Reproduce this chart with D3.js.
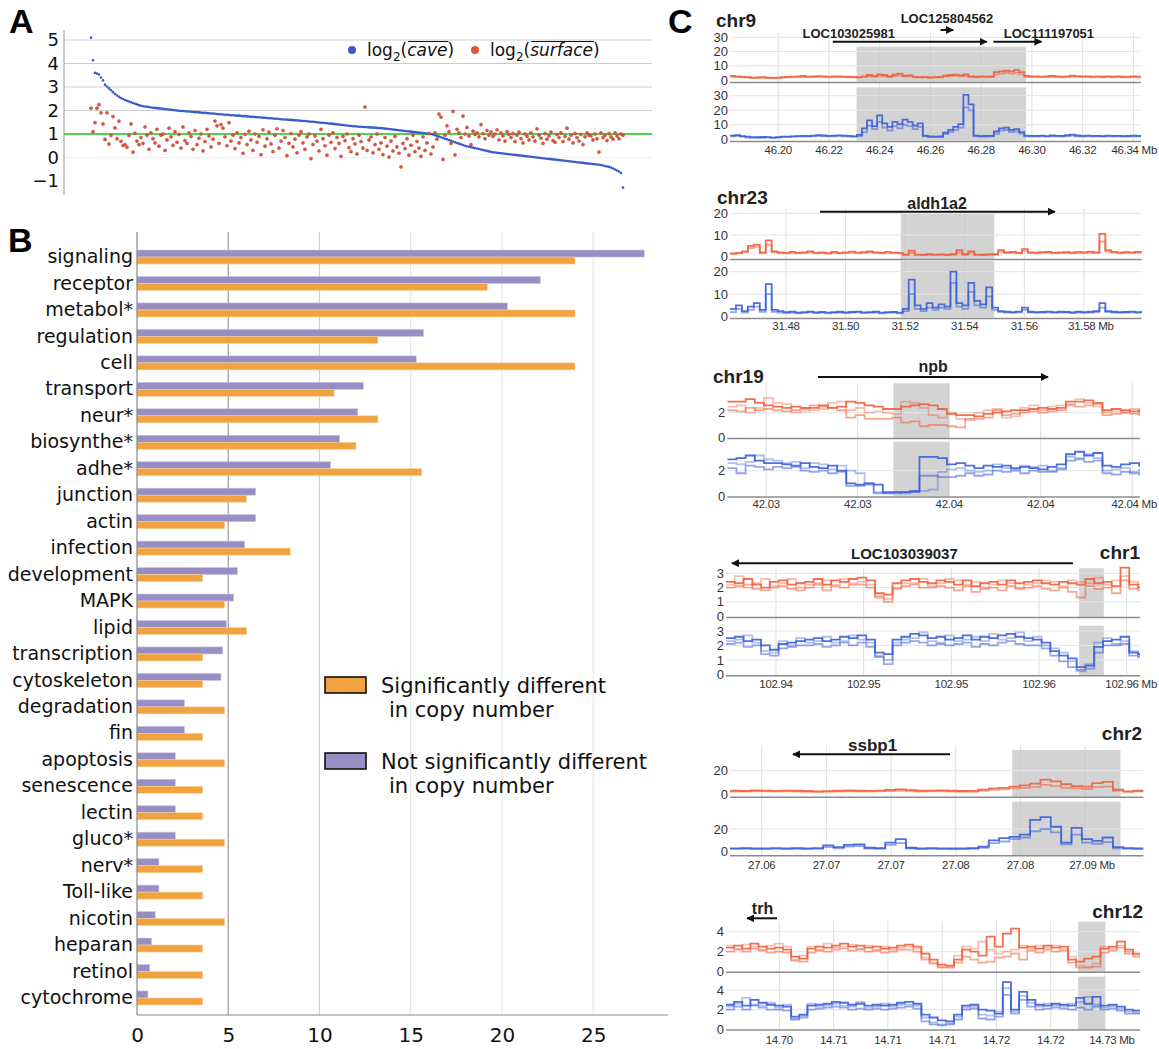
<!DOCTYPE html>
<html><head><meta charset="utf-8">
<script src="https://cdn.jsdelivr.net/npm/d3@7"></script>
<style>body{margin:0;background:#fff}svg{display:block}</style>
</head><body>
<svg id="chart" width="1159" height="1049"></svg>
<script>
// ---------------- Panel A data ----------------
const aTicks = [-1,0,1,2,3,4,5];
const aLegend = ["cave","surface"];
const caveLog2 = [
5.10,4.14,3.60,3.57,3.53,3.40,3.28,3.10,3.02,2.94,
2.86,2.78,2.70,2.64,2.58,2.53,2.49,2.45,2.41,2.38,
2.35,2.32,2.29,2.26,2.23,2.20,2.18,2.17,2.16,2.15,
2.13,2.12,2.11,2.10,2.09,2.08,2.07,2.06,2.05,2.04,
2.03,2.02,2.01,2.00,1.99,1.98,1.98,1.97,1.96,1.96,
1.95,1.94,1.93,1.93,1.92,1.91,1.90,1.90,1.89,1.88,
1.87,1.87,1.86,1.85,1.84,1.84,1.83,1.82,1.82,1.81,
1.80,1.80,1.79,1.78,1.78,1.77,1.76,1.76,1.75,1.74,
1.73,1.73,1.72,1.71,1.71,1.70,1.69,1.69,1.68,1.67,
1.67,1.66,1.65,1.65,1.64,1.63,1.62,1.62,1.61,1.60,
1.60,1.59,1.58,1.58,1.57,1.56,1.55,1.55,1.54,1.53,
1.52,1.52,1.51,1.50,1.49,1.48,1.48,1.47,1.46,1.45,
1.44,1.43,1.42,1.41,1.40,1.39,1.38,1.37,1.36,1.35,
1.34,1.33,1.33,1.32,1.31,1.31,1.30,1.30,1.29,1.28,
1.28,1.27,1.27,1.26,1.25,1.25,1.24,1.23,1.22,1.21,
1.20,1.19,1.18,1.17,1.16,1.15,1.14,1.13,1.12,1.11,
1.10,1.09,1.08,1.07,1.06,1.05,1.04,1.03,1.02,1.01,
1.00,0.98,0.95,0.92,0.89,0.86,0.83,0.80,0.77,0.74,
0.71,0.68,0.65,0.62,0.59,0.56,0.53,0.50,0.48,0.46,
0.44,0.42,0.40,0.38,0.36,0.34,0.32,0.30,0.28,0.26,
0.24,0.22,0.21,0.20,0.19,0.18,0.17,0.16,0.15,0.14,
0.13,0.12,0.11,0.10,0.09,0.08,0.07,0.06,0.05,0.04,
0.03,0.02,0.01,0.00,-0.01,-0.02,-0.03,-0.04,-0.05,-0.06,
-0.07,-0.08,-0.09,-0.10,-0.11,-0.12,-0.13,-0.14,-0.15,-0.16,
-0.17,-0.18,-0.19,-0.20,-0.21,-0.22,-0.23,-0.24,-0.25,-0.26,
-0.27,-0.28,-0.29,-0.30,-0.31,-0.32,-0.34,-0.36,-0.38,-0.40,
-0.43,-0.47,-0.51,-0.55,-0.60,-0.66,-1.28];
const surfaceLog2 = [
2.10,1.10,1.48,2.10,2.25,1.90,1.43,0.77,1.90,0.57,
0.94,1.74,1.26,0.80,1.55,0.69,0.51,0.55,0.44,0.94,
1.43,0.23,1.03,0.70,0.55,0.85,0.60,1.30,0.95,0.35,
1.05,0.80,0.62,1.20,0.48,0.95,1.00,0.30,0.75,1.25,
0.88,0.52,1.10,0.65,0.98,0.40,1.30,0.72,0.60,1.05,
0.90,0.35,1.15,0.55,0.82,1.00,0.28,0.68,1.20,0.92,
0.45,0.78,1.55,1.35,0.60,1.40,1.25,0.88,0.50,1.48,
0.70,0.95,0.38,1.05,0.62,0.85,0.18,0.98,0.55,1.12,
0.75,0.30,1.00,0.65,0.90,0.12,1.18,0.48,0.80,1.08,
0.58,0.25,0.95,1.22,0.40,0.70,1.15,0.85,0.08,0.60,
1.02,0.45,0.78,0.20,0.95,1.10,0.62,0.35,0.88,1.00,
-0.05,0.55,0.92,0.70,0.28,1.20,0.80,0.50,0.10,0.95,
0.65,1.05,0.38,0.85,0.60,0.05,0.90,0.72,1.00,0.42,
0.25,0.80,0.58,0.15,0.95,0.68,0.40,2.15,0.30,0.75,
0.88,0.20,0.55,1.00,0.35,0.62,0.12,0.85,0.48,0.02,
0.70,0.28,0.90,0.45,0.18,-0.40,0.60,0.38,0.80,0.10,
0.52,0.95,0.25,0.68,0.40,0.05,0.88,0.30,0.62,1.02,
0.15,0.45,1.05,0.78,1.85,1.72,-0.08,0.95,1.35,1.10,
0.60,1.96,0.11,1.20,1.05,0.85,1.76,1.00,1.28,0.92,
0.55,1.12,0.98,1.05,0.88,1.40,1.02,0.80,1.15,0.95,
1.08,0.90,1.00,1.18,0.75,1.05,0.92,0.70,1.10,0.98,
0.85,1.02,0.68,0.95,1.08,0.80,0.62,1.00,0.90,0.75,
1.05,0.88,0.70,1.22,0.95,0.82,0.60,1.02,0.78,0.92,
1.08,0.72,0.65,0.98,0.85,1.05,0.68,0.90,1.25,0.78,
0.95,0.62,1.02,0.85,0.70,0.98,0.55,0.88,1.05,0.95,
0.92,0.75,1.00,0.80,0.23,1.05,0.85,0.95,0.72,1.02,
0.88,0.78,1.05,0.92,0.80,1.00,0.95];

// ---------------- Panel B data ----------------
const bCategories = ["signaling","receptor","metabol*","regulation","cell","transport","neur*","biosynthe*","adhe*","junction","actin","infection","development","MAPK","lipid","transcription","cytoskeleton","degradation","fin","apoptosis","senescence","lectin","gluco*","nerv*","Toll-like","nicotin","heparan","retinol","cytochrome"];
const bNotSignificant = [27.8,22.1,20.3,15.7,15.3,12.4,12.1,11.1,10.6,6.5,6.5,5.9,5.5,5.3,4.9,4.7,4.6,2.6,2.6,2.1,2.1,2.1,2.1,1.2,1.2,1.0,0.8,0.7,0.6];
const bSignificant = [24.0,19.2,24.0,13.2,24.0,10.8,13.2,12.0,15.6,6.0,4.8,8.4,3.6,4.8,6.0,3.6,3.6,4.8,3.6,4.8,3.6,3.6,4.8,3.6,3.6,4.8,3.6,3.6,3.6];
const bTicks = [0,5,10,15,20,25];
const bLegend = [["Significantly different","in copy number"],["Not significantly different","in copy number"]];

// ---------------- Panel C data ----------------
const chr9Ticks = [46.20,46.22,46.24,46.26,46.28,46.30,46.32,46.34];
const chr9TickLabels = ["46.20","46.22","46.24","46.26","46.28","46.30","46.32","46.34"];
const chr9Bins = {start:46.181, step:0.002};
const chr9Shade = [46.2309,46.2977];
const chr9Genes = [
 {name:"LOC125804562", label:46.2665, from:46.2640, to:46.2690},
 {name:"LOC103025981", label:46.2278, from:46.2215, to:46.2822},
 {name:"LOC111197051", label:46.3067, from:46.2848, to:46.3038}];
const chr9Red1 = [2.8,2.5,2.2,2.0,1.6,1.8,2.0,1.7,1.5,1.6, 2.0,2.2,2.4,2.6,2.8,2.4,2.5,2.7,2.5,2.4, 2.5,2.6,2.4,2.3,2.2, 2.0,2.5,3.5,2.8,4.0, 3.5,2.5,3.8,4.5,3.0, 3.2,2.2,2.0,2.2,1.8, 2.0,2.2,3.0,3.5,3.8, 3.2,4.0,2.5,2.3,2.5, 2.4,2.6,5.5,6.0,6.5, 6.0,7.0,5.5,2.8,2.6, 2.5,2.4,2.6,2.8,2.5,2.4,2.6,3.0,2.7,2.5, 2.6,2.4,2.5,2.3,2.6,2.4,2.5,2.3,2.4,2.6,2.4];
const chr9Red2 = [2.2,2.0,1.8,1.6,1.3,1.4,1.5,1.3,1.2,1.3, 1.6,1.8,2.0,2.1,2.2,2.0,2.1,2.2,2.0,1.9, 2.0,2.1,2.0,1.9,1.8, 1.6,2.0,2.6,2.2,3.0, 2.6,2.0,2.8,3.2,2.4, 2.5,1.8,1.7,1.8,1.5, 1.6,1.8,2.4,2.8,3.0, 2.6,3.0,2.0,1.9,2.0, 2.0,2.1,4.0,4.5,5.0, 4.5,5.0,4.0,2.3,2.1, 2.0,2.0,2.1,2.3,2.0,1.9,2.1,2.4,2.2,2.0, 2.1,1.9,2.0,1.9,2.1,1.9,2.0,1.8,1.9,2.1,1.9];
const chr9Blue1 = [2.5,2.8,2.2,1.8,1.5,1.4,1.6,1.5,1.2,1.5, 1.8,1.9,2.0,2.2,2.4,2.2,2.5,2.8,2.6,2.4, 2.5,2.7,2.5,2.3,2.0, 3.0,7.5,13.0,9.0,16.5, 11.0,8.5,12.0,10.5,13.5, 12.0,9.5,11.0,2.5,2.0, 1.8,2.0,4.5,6.5,8.5, 10.5,30.5,24.0,2.5,2.2, 2.3,2.4,5.5,7.5,8.0, 6.5,7.0,5.0,2.5,2.4, 2.3,2.5,2.2,2.6,2.4,2.3,2.8,3.2,2.6,2.4, 2.5,2.3,2.4,2.2,2.5,2.3,2.4,2.2,2.3,2.5,2.3];
const chr9Blue2 = [2.0,2.3,1.8,1.2,1.0,1.2,1.0,1.3,1.0,1.2, 1.5,1.6,1.8,2.0,1.9,2.0,2.2,2.4,2.2,2.0, 2.1,2.3,2.0,1.9,1.8, 2.2,5.0,9.5,7.0,12.0, 8.0,6.0,9.0,7.5,10.0, 9.0,7.0,8.5,2.0,1.6, 1.5,1.6,3.5,5.0,6.5, 8.0,22.0,20.0,2.0,1.8, 1.9,2.0,4.0,6.0,6.5, 5.0,5.5,4.0,2.0,1.9, 1.9,2.0,1.8,2.1,2.0,1.9,2.2,2.5,2.1,1.9, 2.0,1.9,2.0,1.8,2.0,1.9,2.0,1.8,1.9,2.0,1.9];

const chr23Ticks = [31.48,31.50,31.52,31.54,31.56,31.58];
const chr23TickLabels = ["31.48","31.50","31.52","31.54","31.56","31.58"];
const chr23Bins = {start:31.4612, step:0.002};
const chr23Shade = [31.5185,31.5499];
const chr23Genes = [{name:"aldh1a2", label:31.5307, from:31.4914, to:31.5703}];
const chr23Red1 = [1.5,1.8,2.5,5.0,5.5,2.0,7.5,2.5,2.0,1.8, 2.2,1.8,2.0,2.5,1.8,2.0,1.6,2.2,1.8,2.0, 2.3,1.9,2.1,2.4,2.0,1.8,2.2,1.9,1.8,1.0, 2.8,1.0,0.9,1.2,1.0,1.1,0.9,1.2,3.0,1.2, 2.5,1.0,0.9,1.1,1.2,3.0,2.0,2.2,1.8,3.5, 2.0,1.9,2.1,2.2,1.8,2.0,2.1,1.9,2.2,2.0, 2.3,2.0,10.5,3.0,2.2,1.9,2.1,2.0,2.2,2.1];
const chr23Red2 = [1.2,1.5,2.0,4.0,4.5,1.6,5.5,2.0,1.6,1.5, 1.8,1.5,1.7,2.0,1.5,1.7,1.4,1.8,1.5,1.7, 1.9,1.6,1.8,2.0,1.7,1.5,1.8,1.6,1.5,0.8, 1.8,0.8,0.7,0.9,0.8,0.9,0.7,0.9,2.0,0.9, 1.8,0.8,0.7,0.9,0.8,2.2,1.7,1.8,1.5,2.6, 1.7,1.6,1.8,1.8,1.5,1.7,1.8,1.6,1.8,1.7, 1.9,1.7,7.0,2.2,1.8,1.6,1.8,1.7,1.8,1.8];
const chr23Blue1 = [3.5,5.0,2.5,4.5,6.0,3.0,14.5,3.0,2.5,2.0, 2.2,1.8,2.0,2.3,1.9,2.1,1.8,2.0,2.2,1.9, 2.1,2.3,1.9,2.0,2.2,1.8,2.0,2.1,1.8,3.5, 16.5,5.0,3.5,6.0,4.0,5.5,4.5,20.0,6.0,5.0, 15.0,7.0,5.5,13.0,4.0,2.5,2.2,2.0,2.3,4.0, 2.2,2.0,2.1,2.3,2.0,2.2,2.1,1.9,2.2,2.0, 2.2,2.5,6.0,2.5,2.2,2.0,2.1,2.3,2.0,2.2];
const chr23Blue2 = [2.0,3.5,1.8,3.0,4.5,2.2,10.0,2.2,1.8,1.6, 1.8,1.5,1.7,1.9,1.6,1.8,1.5,1.7,1.8,1.6, 1.8,1.9,1.6,1.7,1.8,1.5,1.7,1.8,1.5,2.5, 10.0,3.5,2.5,4.0,3.0,4.0,3.5,15.0,4.5,3.5, 11.0,5.0,4.0,9.0,3.0,2.0,1.8,1.7,1.9,3.0, 1.8,1.7,1.8,1.9,1.7,1.8,1.8,1.6,1.8,1.7, 1.8,2.0,4.0,2.0,1.8,1.7,1.8,1.9,1.7,1.8];

const chr19Ticks = [42.032,42.034,42.036,42.038,42.040];
const chr19TickLabels = ["42.03","42.03","42.04","42.04","42.04"];
const chr19Bins = {start:42.03115, step:0.0002};
const chr19Shade = [42.03478,42.03600];
const chr19Genes = [{name:"npb", label:42.03565, from:42.03313, to:42.03816}];
const chr19Red1 = [2.9,2.9,3.1,2.8,2.6, 2.5,2.4,2.5,2.4, 2.4,2.6,2.4,2.5, 2.9,2.8,2.6,2.5, 2.3,2.3, 2.5,2.6, 2.7,2.6,2.3, 1.9,1.8,1.8, 1.7,1.9, 2.0,2.1,2.2,2.2, 2.3,2.4,2.3,2.4, 2.9,2.9,3.0,2.8, 2.2,2.3,2.2,2.1,2.2];
const chr19Red2 = [2.2,2.1,2.4,2.2,2.3, 2.2,2.1,2.2,2.3, 2.6,2.5,2.4,2.2, 1.6,1.8,1.5,1.5, 1.5,1.6, 1.2,1.3, 0.9,1.0,1.0, 0.9,0.8,1.5, 1.5,1.6, 2.2,1.8,1.9,2.0, 2.1,2.0,2.1,2.2, 2.6,2.5,2.6,2.7, 1.8,1.9,2.0,1.9,1.8];
const chr19Red3 = [2.5,2.6,2.0,2.4,3.2, 2.8,2.7,2.0,2.1, 2.2,2.3,2.8,2.9, 2.2,2.4,2.0,2.1, 2.0,1.9, 2.9,2.8, 2.4,1.8,1.6, 2.0,1.5,1.4, 2.0,2.2, 2.3,1.6,1.7,2.4, 2.6,2.2,2.5,2.6, 2.7,3.1,2.8,2.5, 2.0,2.1,2.0,2.3,2.0];
const chr19Blue1 = [2.9,3.0,3.2,2.8,2.6, 2.6,2.5,2.4,2.6, 2.3,2.2,2.4,2.0, 1.0,0.9,1.0,0.9, 0.3,0.3, 0.3,0.4, 3.1,3.1,3.0, 2.5,2.6,2.4, 2.2,2.4, 2.3,2.4,2.2,2.3, 2.2,2.1,2.3,2.5, 3.3,3.5,3.2,3.4, 2.4,2.3,2.5,2.6,2.4];
const chr19Blue2 = [2.2,1.8,2.4,2.3,2.1, 2.3,2.2,2.3,2.0, 1.9,2.0,1.8,1.9, 0.8,0.8,0.9,0.2, 0.2,0.2, 0.3,0.3, 1.6,1.6,1.5, 1.5,1.6,1.8, 1.6,1.7, 2.0,1.9,2.0,1.8, 2.0,1.9,1.9,2.1, 2.8,2.9,2.7,2.8, 1.8,1.7,1.9,1.8,1.7];
const chr19Blue3 = [2.6,2.5,2.7,3.2,2.9, 2.8,2.6,2.7,2.2, 2.6,2.5,2.1,2.4, 2.0,1.8,1.0,0.3, 0.2,0.3, 0.2,0.3, 0.4,0.5,1.9, 2.1,2.2,2.0, 1.9,2.0, 2.5,2.2,2.1,2.4, 2.3,2.4,2.0,2.2, 3.1,3.0,3.3,3.0, 2.0,2.1,2.2,1.9,2.1];

const chr1Ticks = [102.944,102.948,102.952,102.956,102.960];
const chr1TickLabels = ["102.94","102.95","102.95","102.96","102.96"];
const chr1Bins = {start:102.94172, step:0.0004};
const chr1Shade = [102.95783,102.95896];
const chr1Genes = [{name:"LOC103039037", label:102.94986, from:102.95755, to:102.94199}];
const chr1Red1 = [2.4,2.3,2.6,2.2,2.0,2.4,2.5,2.2,2.3,2.4, 2.6,2.2,2.5,2.4,2.6,2.7,2.5,1.6,1.5,2.3, 2.5,2.6,2.4,2.3,2.5,2.4,2.2,2.5,2.1,2.3, 2.4,2.2,2.5,2.3,2.4,2.5,2.3,2.2,2.4,2.3, 2.2,2.6,2.3,2.4,2.1,3.4,2.2,2.0];
const chr1Red2 = [2.0,2.1,2.2,1.9,1.8,2.0,2.1,1.9,1.8,2.0, 2.2,1.8,2.1,2.0,2.2,2.2,2.0,1.3,1.0,1.9, 2.1,2.2,2.0,2.0,2.1,2.0,1.8,2.1,1.7,1.9, 2.0,1.8,2.1,1.9,2.0,2.1,1.9,1.8,2.0,1.7, 1.3,2.1,1.9,2.0,1.6,2.5,1.9,1.8];
const chr1Red3 = [2.2,2.8,2.0,2.3,2.6,2.1,2.3,2.6,2.0,2.2, 2.3,2.5,2.2,2.6,2.3,2.4,2.2,1.4,1.2,2.0, 2.3,2.3,2.6,2.1,2.3,2.6,2.5,2.2,2.4,2.0, 2.2,2.5,2.3,2.0,2.2,2.3,2.5,2.4,2.1,2.5, 2.4,2.3,2.7,2.2,2.5,2.8,2.4,2.2];
const chr1Blue1 = [2.5,2.6,2.3,2.4,2.0,1.7,2.1,2.2,2.3,2.4, 2.5,2.3,2.4,2.6,2.5,2.7,2.4,1.5,1.4,2.4, 2.6,2.8,2.7,2.5,2.6,2.4,2.5,2.7,2.4,2.6, 2.5,2.7,2.8,2.6,2.5,2.4,2.2,1.6,1.3,1.1, 0.5,0.6,1.9,2.3,2.4,2.6,1.5,1.4];
const chr1Blue2 = [2.1,2.2,1.9,2.0,1.4,1.3,1.8,1.9,2.0,2.0, 2.1,1.9,2.0,2.2,2.0,2.2,1.9,1.2,0.7,2.0, 2.2,2.3,2.2,2.0,2.1,2.0,2.1,2.2,1.9,2.1, 2.0,2.2,2.3,2.1,2.0,2.0,1.8,1.3,0.9,0.5, 0.3,0.4,1.5,2.0,2.0,2.1,1.3,1.2];
const chr1Blue3 = [2.3,2.4,2.7,2.2,1.6,1.5,2.3,2.0,2.5,2.2, 2.3,2.6,2.2,2.3,2.7,2.4,2.2,1.3,1.0,2.2, 2.4,2.5,2.9,2.3,2.2,2.7,2.3,2.4,2.6,2.3, 2.8,2.4,2.5,2.9,2.3,2.6,2.0,1.8,1.5,0.9, 0.2,0.7,2.2,2.5,2.1,2.3,1.6,1.3];

const chr2Ticks = [27.060,27.065,27.070,27.075,27.080,27.085];
const chr2TickLabels = ["27.06","27.07","27.07","27.08","27.08","27.09"];
const chr2Bins = {start:27.05755, step:0.0008};
const chr2Shade = [27.07937,27.08774];
const chr2Genes = [{name:"ssbp1", label:27.06857, from:27.07456, to:27.06242}];
const chr2Red1 = [3.0,2.8,3.2,3.0,2.9,3.1,3.0,2.8,2.5,2.7, 3.0,3.2,3.0,2.9,3.1,3.8,4.2,3.5,3.0,3.1, 3.3,3.0,2.8,2.9,4.0,5.0,5.5,6.5,7.5,9.0, 12.5,11.0,8.5,7.0,6.5,9.5,10.5,4.0,2.5,3.0];
const chr2Red2 = [2.3,2.2,2.5,2.4,2.2,2.5,2.3,2.1,1.9,2.0, 2.3,2.5,2.3,2.2,2.4,2.8,3.0,2.6,2.3,2.4, 2.5,2.2,2.0,2.1,3.0,3.8,4.2,5.0,5.5,6.0, 8.0,7.0,5.5,5.0,4.5,6.0,6.5,3.0,2.0,2.4];
const chr2Blue1 = [3.0,3.2,3.0,2.9,3.1,3.0,3.2,3.0,3.1,5.5, 4.0,6.0,6.5,3.5,3.2,8.0,11.0,3.5,3.0,3.1, 3.0,2.8,3.0,3.2,4.5,10.0,12.0,13.0,15.0,28.0, 30.5,22.0,8.0,21.0,11.0,9.5,12.5,4.0,3.2,3.0];
const chr2Blue2 = [2.5,2.6,2.4,2.3,2.5,2.4,2.6,2.4,2.5,4.0, 3.0,4.5,5.0,2.8,2.6,6.0,7.5,2.8,2.4,2.5, 2.4,2.2,2.4,2.6,3.5,7.5,9.0,11.0,12.5,18.0, 20.0,17.0,6.5,15.0,8.0,7.0,8.5,3.0,2.6,2.4];

const chr12Ticks = [14.702,14.706,14.710,14.714,14.718,14.722,14.726];
const chr12TickLabels = ["14.70","14.71","14.71","14.71","14.72","14.72","14.73"];
const chr12Bins = {start:14.69807, step:0.0006};
const chr12Shade = [14.72402,14.72599];
const chr12Genes = [{name:"trh", label:14.70076, from:14.70183, to:14.69962}];
const chr12Red1 = [2.4,2.6,2.3,2.8,2.5,2.3,2.4,2.2,1.5,1.3, 2.3,2.5,2.4,2.6,2.8,2.5,2.6,2.4,2.5,2.3, 2.4,2.6,2.7,2.5,1.8,1.2,0.7,0.6,1.2,2.2, 2.0,1.6,3.5,2.5,3.8,4.3,2.4,2.5,2.3,2.6, 2.4,2.5,1.2,1.0,1.3,1.5,2.3,2.5,3.0,2.2, 1.8];
const chr12Red2 = [2.0,2.2,2.0,2.3,2.1,1.9,2.0,1.9,1.1,1.0, 1.9,2.1,2.0,2.2,2.3,2.1,2.2,2.0,2.1,1.9, 2.0,2.2,2.2,2.0,1.2,0.8,0.4,0.4,0.9,1.5, 1.2,0.9,1.0,1.4,1.5,1.8,1.2,2.1,1.9,2.2, 2.0,2.1,0.9,0.4,0.4,0.5,1.9,2.1,2.4,1.8, 1.5];
const chr12Red3 = [2.6,2.3,2.7,2.5,2.2,2.6,2.8,2.5,1.2,1.6, 2.5,2.2,2.8,2.4,2.5,2.7,2.3,2.6,2.2,2.5, 2.2,2.4,2.5,2.3,1.4,0.9,0.5,0.5,1.6,2.5, 2.3,3.0,2.2,1.8,2.0,2.2,2.6,2.3,2.6,2.4, 2.6,2.3,1.5,0.6,0.5,0.8,2.5,2.3,2.6,2.0, 1.7];
const chr12Blue1 = [2.5,2.8,2.4,3.0,2.7,2.5,2.4,2.3,1.3,1.5, 2.4,2.5,2.6,2.8,2.7,2.5,2.6,2.4,2.5,2.4, 2.5,2.7,2.8,2.6,1.5,1.2,0.9,0.8,1.5,2.4, 2.5,2.0,1.9,1.6,4.8,2.0,3.8,3.0,2.5,2.4, 2.6,2.5,2.4,3.2,2.6,3.3,2.4,2.5,2.3,2.0, 1.9];
const chr12Blue2 = [2.0,2.3,2.0,2.4,2.2,2.0,2.0,1.9,1.0,1.2, 2.0,2.1,2.2,2.3,2.2,2.0,2.1,2.0,2.1,2.0, 2.1,2.2,2.3,2.1,0.8,0.5,0.4,0.5,1.0,2.0, 2.1,1.1,1.0,1.3,3.5,1.6,3.0,2.3,2.0,2.1, 2.2,2.1,2.0,2.2,2.0,2.3,2.0,2.1,1.9,1.6, 1.6];
const chr12Blue3 = [2.3,2.6,3.2,2.5,2.4,2.7,2.2,2.5,1.1,1.4, 2.6,2.3,2.4,2.6,2.4,2.3,2.8,2.2,2.3,2.6, 2.3,2.5,2.5,2.4,1.2,0.7,0.5,0.6,1.3,2.2, 2.3,1.5,1.4,1.8,4.2,1.8,3.4,2.7,2.3,2.6, 2.4,2.3,2.6,2.8,3.3,2.5,2.2,2.3,2.1,1.8, 1.7];

// ---------------- drawing ----------------
const svg = d3.select("#chart");
const defs = svg.append("defs");
const SANS = "DejaVu Sans";
const ARIAL = "Liberation Sans";
const RED = "#f0603d", BLUE = "#3b5fd8";

[["A",9,33],["B",8,252],["C",668,33]].forEach(([t,x,y]) =>
  svg.append("text").attr("x",x).attr("y",y).attr("font-family",ARIAL)
     .attr("font-weight","bold").attr("font-size",34).attr("fill","#000").text(t));

// ===== Panel A =====
(function(){
  const g = svg.append("g");
  const x = d3.scaleLinear().domain([0, caveLog2.length-1]).range([91, 623]);
  const y = d3.scaleLinear().domain([-1,5]).range([181,40]);
  g.selectAll(".ga").data(aTicks.filter(t=>t>=0)).join("line")
    .attr("x1",64).attr("x2",652).attr("y1",d=>y(d)).attr("y2",d=>y(d))
    .attr("stroke",d=>d===0?"#efefef":"#cdcdcd").attr("stroke-width",1.2);
  g.append("line").attr("x1",64).attr("x2",64).attr("y1",30).attr("y2",195).attr("stroke","#999");
  const ax = d3.axisLeft(y).tickValues(aTicks).tickSize(0).tickPadding(5)
     .tickFormat(d=> d<0 ? "\u2212"+Math.abs(d) : String(d));
  g.append("g").attr("transform","translate(64,0)").call(ax)
    .call(s=>s.select(".domain").remove())
    .selectAll("text").attr("font-family",SANS).attr("font-size",18).attr("fill","#111");
  g.append("line").attr("x1",64).attr("x2",652).attr("y1",y(1)).attr("y2",y(1))
    .attr("stroke","#1fcc1f").attr("stroke-width",1.6);
  g.selectAll(".cave").data(caveLog2).join("circle")
    .attr("cx",(d,i)=>x(i)).attr("cy",d=>y(d)).attr("r",1.3).attr("fill","#3a5ccc");
  g.selectAll(".surf").data(surfaceLog2).join("circle")
    .attr("cx",(d,i)=>x(i)).attr("cy",d=>y(d)).attr("r",1.6).attr("fill","#e0553c")
    .attr("stroke","#a83a2a").attr("stroke-width",0.4);
  const legX = [352, 475], legCol = ["#3a5ccc","#e0553c"];
  aLegend.forEach((name,k)=>{
    g.append("circle").attr("cx",legX[k]).attr("cy",50).attr("r",4).attr("fill",legCol[k]);
    const t = g.append("text").attr("x",legX[k]+15).attr("y",56).attr("font-family",SANS)
       .attr("font-size",17).attr("fill","#111");
    t.append("tspan").text("log");
    t.append("tspan").attr("font-size",12).attr("dy",5).text("2");
    t.append("tspan").attr("dy",-5).text("(");
    const it = t.append("tspan").attr("font-style","italic").text(name);
    t.append("tspan").text(")");
    const node = it.node();
    const n = name.length;
    const x0 = node.getStartPositionOfChar(0).x, x1 = node.getEndPositionOfChar(n-1).x;
    g.append("line").attr("x1",x0+1).attr("x2",x1+1).attr("y1",41.5).attr("y2",41.5)
      .attr("stroke","#111").attr("stroke-width",1.2);
  });
})();

// ===== Panel B =====
(function(){
  const g = svg.append("g");
  const x = d3.scaleLinear().domain([0,29.1]).range([137,668]);
  const y = d3.scaleBand().domain(bCategories).range([243.8,1011.2]);
  const yc = c => y(c) + y.bandwidth()/2;
  g.selectAll(".gb").data(bTicks.filter(t=>t>0)).join("line")
    .attr("x1",d=>x(d)).attr("x2",d=>x(d)).attr("y1",232).attr("y2",1015)
    .attr("stroke",d=>d===5?"#9a9a9a":(d===10?"#cfcfcf":"#e6e6e6")).attr("stroke-width",1.2);
  const rows = bCategories.map((c,i)=>({c, ns:bNotSignificant[i], s:bSignificant[i]}));
  g.selectAll(".ns").data(rows).join("rect")
    .attr("x",x(0)).attr("y",d=>yc(d.c)-7).attr("width",d=>x(d.ns)-x(0)).attr("height",7)
    .attr("fill","#998ec3").attr("stroke","#c9c2e2").attr("stroke-width",0.6);
  g.selectAll(".sg").data(rows).join("rect")
    .attr("x",x(0)).attr("y",d=>yc(d.c)).attr("width",d=>x(d.s)-x(0)).attr("height",7)
    .attr("fill","#f1a340").attr("stroke","#f7cf9a").attr("stroke-width",0.6);
  g.append("line").attr("x1",137).attr("x2",137).attr("y1",232).attr("y2",1015).attr("stroke","#888").attr("stroke-width",1.2);
  g.append("line").attr("x1",137).attr("x2",668).attr("y1",1015).attr("y2",1015).attr("stroke","#888").attr("stroke-width",1.2);
  g.append("g").attr("transform","translate(137,0)")
    .call(d3.axisLeft(y).tickSize(0).tickPadding(4))
    .call(s=>s.select(".domain").remove())
    .selectAll("text").attr("font-family",SANS).attr("font-size",19).attr("fill","#111");
  g.append("g").attr("transform","translate(0,1015)")
    .call(d3.axisBottom(x).tickValues(bTicks).tickSize(0).tickPadding(13))
    .call(s=>s.select(".domain").remove())
    .selectAll("text").attr("font-family",SANS).attr("font-size",20).attr("fill","#111");
  const legCols = ["#f1a340","#998ec3"], legY = [677,753];
  bLegend.forEach((lines,k)=>{
    g.append("rect").attr("x",325).attr("y",legY[k]).attr("width",41).attr("height",16)
      .attr("fill",legCols[k]).attr("stroke","#111").attr("stroke-width",1.6);
    g.append("text").attr("x",381).attr("y",legY[k]+16).attr("font-family",SANS).attr("font-size",21)
      .attr("fill","#111").text(lines[0]);
    g.append("text").attr("x",389).attr("y",legY[k]+40).attr("font-family",SANS).attr("font-size",21)
      .attr("fill","#111").text(lines[1]);
  });
})();

// ===== Panel C =====
const regions = [
 {id:"c9", title:"chr9", titleX:716, titleY:27, titleAnchor:"start",
  xDomain:[46.181,46.343], xRange:[730,1141], ticks:chr9Ticks, labels:chr9TickLabels, labelY:154,
  bins:chr9Bins, shade:chr9Shade, genes:chr9Genes, geneFont:13, geneLabelY:[23,38,38], geneArrowY:[30,41.7,41.7],
  gridTop:33,
  tracks:[
   {color:RED, zeroY:80, refY:37.3, ref:30, yTicks:[0,10,20,30], shadeTop:46.7, shadeBottom:82, lineY:82.5, reps:[chr9Red1,chr9Red2]},
   {color:BLUE, zeroY:139.3, refY:95.7, ref:30, yTicks:[0,10,20,30], shadeTop:87.3, shadeBottom:140.5, lineY:141.5, reps:[chr9Blue1,chr9Blue2]}]},
 {id:"c23", title:"chr23", titleX:717, titleY:204, titleAnchor:"start",
  xDomain:[31.4612,31.5994], xRange:[730,1141.7], ticks:chr23Ticks, labels:chr23TickLabels, labelY:330,
  bins:chr23Bins, shade:chr23Shade, genes:chr23Genes, geneFont:16, geneLabelY:[209], geneArrowY:[211.7],
  gridTop:209,
  tracks:[
   {color:RED, zeroY:256.7, refY:213.3, ref:20, yTicks:[0,10,20], shadeTop:214, shadeBottom:259, lineY:259.5, reps:[chr23Red1,chr23Red2]},
   {color:BLUE, zeroY:316.7, refY:271.7, ref:20, yTicks:[0,10,20], shadeTop:261, shadeBottom:317.5, lineY:318.5, reps:[chr23Blue1,chr23Blue2]}]},
 {id:"c19", title:"chr19", titleX:713, titleY:383, titleAnchor:"start",
  xDomain:[42.03115,42.04017], xRange:[727.3,1140], ticks:chr19Ticks, labels:chr19TickLabels, labelY:508,
  bins:chr19Bins, shade:chr19Shade, genes:chr19Genes, geneFont:16, geneLabelY:[372], geneArrowY:[377],
  gridTop:383,
  tracks:[
   {color:RED, zeroY:437.3, refY:412.7, ref:2, yTicks:[0,2], shadeTop:383.3, shadeBottom:438, lineY:438.5, reps:[chr19Red1,chr19Red2,chr19Red3]},
   {color:BLUE, zeroY:496, refY:470.7, ref:2, yTicks:[0,2], shadeTop:441.7, shadeBottom:496.5, lineY:497, reps:[chr19Blue1,chr19Blue2,chr19Blue3]}]},
 {id:"c1", title:"chr1", titleX:1140, titleY:559, titleAnchor:"end",
  xDomain:[102.94172,102.96061], xRange:[726,1140], ticks:chr1Ticks, labels:chr1TickLabels, labelY:688,
  bins:chr1Bins, shade:chr1Shade, genes:chr1Genes, geneFont:15, geneLabelY:[559], geneArrowY:[563.3],
  gridTop:568,
  tracks:[
   {color:RED, zeroY:616, refY:573.3, ref:3, yTicks:[0,1,2,3], shadeTop:568.3, shadeBottom:617, lineY:617.5, reps:[chr1Red1,chr1Red2,chr1Red3]},
   {color:BLUE, zeroY:674.3, refY:631, ref:3, yTicks:[0,1,2,3], shadeTop:625.7, shadeBottom:675, lineY:675.7, reps:[chr1Blue1,chr1Blue2,chr1Blue3]}]},
 {id:"c2", title:"chr2", titleX:1142, titleY:740, titleAnchor:"end",
  xDomain:[27.05755,27.0895], xRange:[730,1143.3], ticks:chr2Ticks, labels:chr2TickLabels, labelY:869,
  bins:chr2Bins, shade:chr2Shade, genes:chr2Genes, geneFont:17, geneLabelY:[751], geneArrowY:[754.3],
  gridTop:745,
  tracks:[
   {color:RED, zeroY:794.3, refY:770.7, ref:20, yTicks:[0,20], shadeTop:750, shadeBottom:797, lineY:797.3, reps:[chr2Red1,chr2Red2]},
   {color:BLUE, zeroY:851.7, refY:829, ref:20, yTicks:[0,20], shadeTop:801.7, shadeBottom:855, lineY:855.7, reps:[chr2Blue1,chr2Blue2]}]},
 {id:"c12", title:"chr12", titleX:1143, titleY:918, titleAnchor:"end",
  xDomain:[14.69807,14.72858], xRange:[726,1140], ticks:chr12Ticks, labels:chr12TickLabels, labelY:1044,
  bins:chr12Bins, shade:chr12Shade, genes:chr12Genes, geneFont:16, geneLabelY:[914], geneArrowY:[918.3],
  gridTop:921,
  tracks:[
   {color:RED, zeroY:971.7, refY:931.7, ref:4, yTicks:[0,2,4], shadeTop:921.7, shadeBottom:972, lineY:972.3, reps:[chr12Red1,chr12Red2,chr12Red3]},
   {color:BLUE, zeroY:1029.3, refY:990, ref:4, yTicks:[0,2,4], shadeTop:976.7, shadeBottom:1029.5, lineY:1030, reps:[chr12Blue1,chr12Blue2,chr12Blue3]}]}
];

defs.append("marker").attr("id","arrowhead").attr("viewBox","0 0 10 10").attr("refX",9).attr("refY",5)
  .attr("markerWidth",4).attr("markerHeight",4).attr("orient","auto")
  .append("path").attr("d","M0,0 L10,5 L0,10 Z").attr("fill","#111");

const repOpacity = [0.9, 0.55, 0.4];
regions.forEach(cfg=>{
  const g = svg.append("g");
  const xs = d3.scaleLinear().domain(cfg.xDomain).range(cfg.xRange);
  const [xl,xr] = cfg.xRange;
  const last = cfg.tracks[cfg.tracks.length-1];
  defs.append("clipPath").attr("id","clip-"+cfg.id).append("rect")
    .attr("x",xl).attr("y",cfg.gridTop-12).attr("width",xr-xl).attr("height",last.lineY-cfg.gridTop+12);
  cfg.tracks.forEach(t=>{
    g.append("rect").attr("x",xs(cfg.shade[0])).attr("width",xs(cfg.shade[1])-xs(cfg.shade[0]))
      .attr("y",t.shadeTop).attr("height",t.shadeBottom-t.shadeTop).attr("fill","#d3d3d3");
  });
  g.selectAll(".vg").data(cfg.ticks).join("line")
    .attr("x1",d=>xs(d)).attr("x2",d=>xs(d)).attr("y1",cfg.gridTop).attr("y2",last.lineY)
    .attr("stroke","#c8c8c8").attr("stroke-opacity",0.6).attr("stroke-width",1);
  cfg.tracks.forEach(t=>{
    const ys = d3.scaleLinear().domain([0,t.ref]).range([t.zeroY,t.refY]);
    g.selectAll(null).data(t.yTicks.filter(v=>v>0)).join("line")
      .attr("x1",xl).attr("x2",xr).attr("y1",d=>ys(d)).attr("y2",d=>ys(d))
      .attr("stroke","#e4e4e4").attr("stroke-width",1);
    const line = d3.line().x(d=>xs(d[0])).y(d=>ys(d[1])).curve(d3.curveStepAfter);
    t.reps.forEach((vals,k)=>{
      const pts = vals.map((v,i)=>[cfg.bins.start + i*cfg.bins.step, v]);
      pts.push([cfg.bins.start + vals.length*cfg.bins.step, vals[vals.length-1]]);
      g.append("path").attr("d",line(pts)).attr("fill","none").attr("stroke",t.color)
        .attr("stroke-width",1.8).attr("stroke-opacity",repOpacity[k])
        .attr("stroke-linejoin","miter")
        .attr("clip-path","url(#clip-"+cfg.id+")");
    });
    g.append("line").attr("x1",xl).attr("x2",xr).attr("y1",t.lineY).attr("y2",t.lineY)
      .attr("stroke","#8c8c8c").attr("stroke-width",1.5);
    g.selectAll(null).data(t.yTicks).join("text")
      .attr("x",xl-2).attr("y",d=>ys(d)).attr("dy","0.36em").attr("text-anchor","end")
      .attr("font-family",ARIAL).attr("font-size",13).attr("fill","#333").text(d=>d);
  });
  const nT = cfg.ticks.length;
  const lab = g.selectAll(".xl").data(cfg.ticks).join("text")
    .attr("x",d=>xs(d)).attr("y",cfg.labelY).attr("text-anchor","middle")
    .attr("font-family",ARIAL).attr("font-size",11.5).attr("fill","#333").attr("letter-spacing",-0.3)
    .text((d,i)=> i===nT-1 ? cfg.labels[i]+" Mb" : cfg.labels[i]);
  const lastNode = lab.nodes()[nT-1];
  const w = lastNode.getComputedTextLength();
  const numW = w * cfg.labels[nT-1].length / (cfg.labels[nT-1].length + 2.2);
  let startX = xs(cfg.ticks[nT-1]) - numW/2;
  startX = Math.min(startX, 1157 - w);
  d3.select(lastNode).attr("text-anchor","start").attr("x",startX);
  g.append("text").attr("x",cfg.titleX).attr("y",cfg.titleY).attr("text-anchor",cfg.titleAnchor)
    .attr("font-family",ARIAL).attr("font-weight","bold").attr("font-size",19).attr("fill","#222").text(cfg.title);
  cfg.genes.forEach((gn,k)=>{
    g.append("line").attr("x1",xs(gn.from)).attr("x2",xs(gn.to))
      .attr("y1",cfg.geneArrowY[k]).attr("y2",cfg.geneArrowY[k])
      .attr("stroke","#111").attr("stroke-width",2).attr("marker-end","url(#arrowhead)");
    g.append("text").attr("x",xs(gn.label)).attr("y",cfg.geneLabelY[k]).attr("text-anchor","middle")
      .attr("font-family",ARIAL).attr("font-weight","bold").attr("font-size",cfg.geneFont).attr("fill","#222").text(gn.name);
  });
});
</script>
</body></html>
